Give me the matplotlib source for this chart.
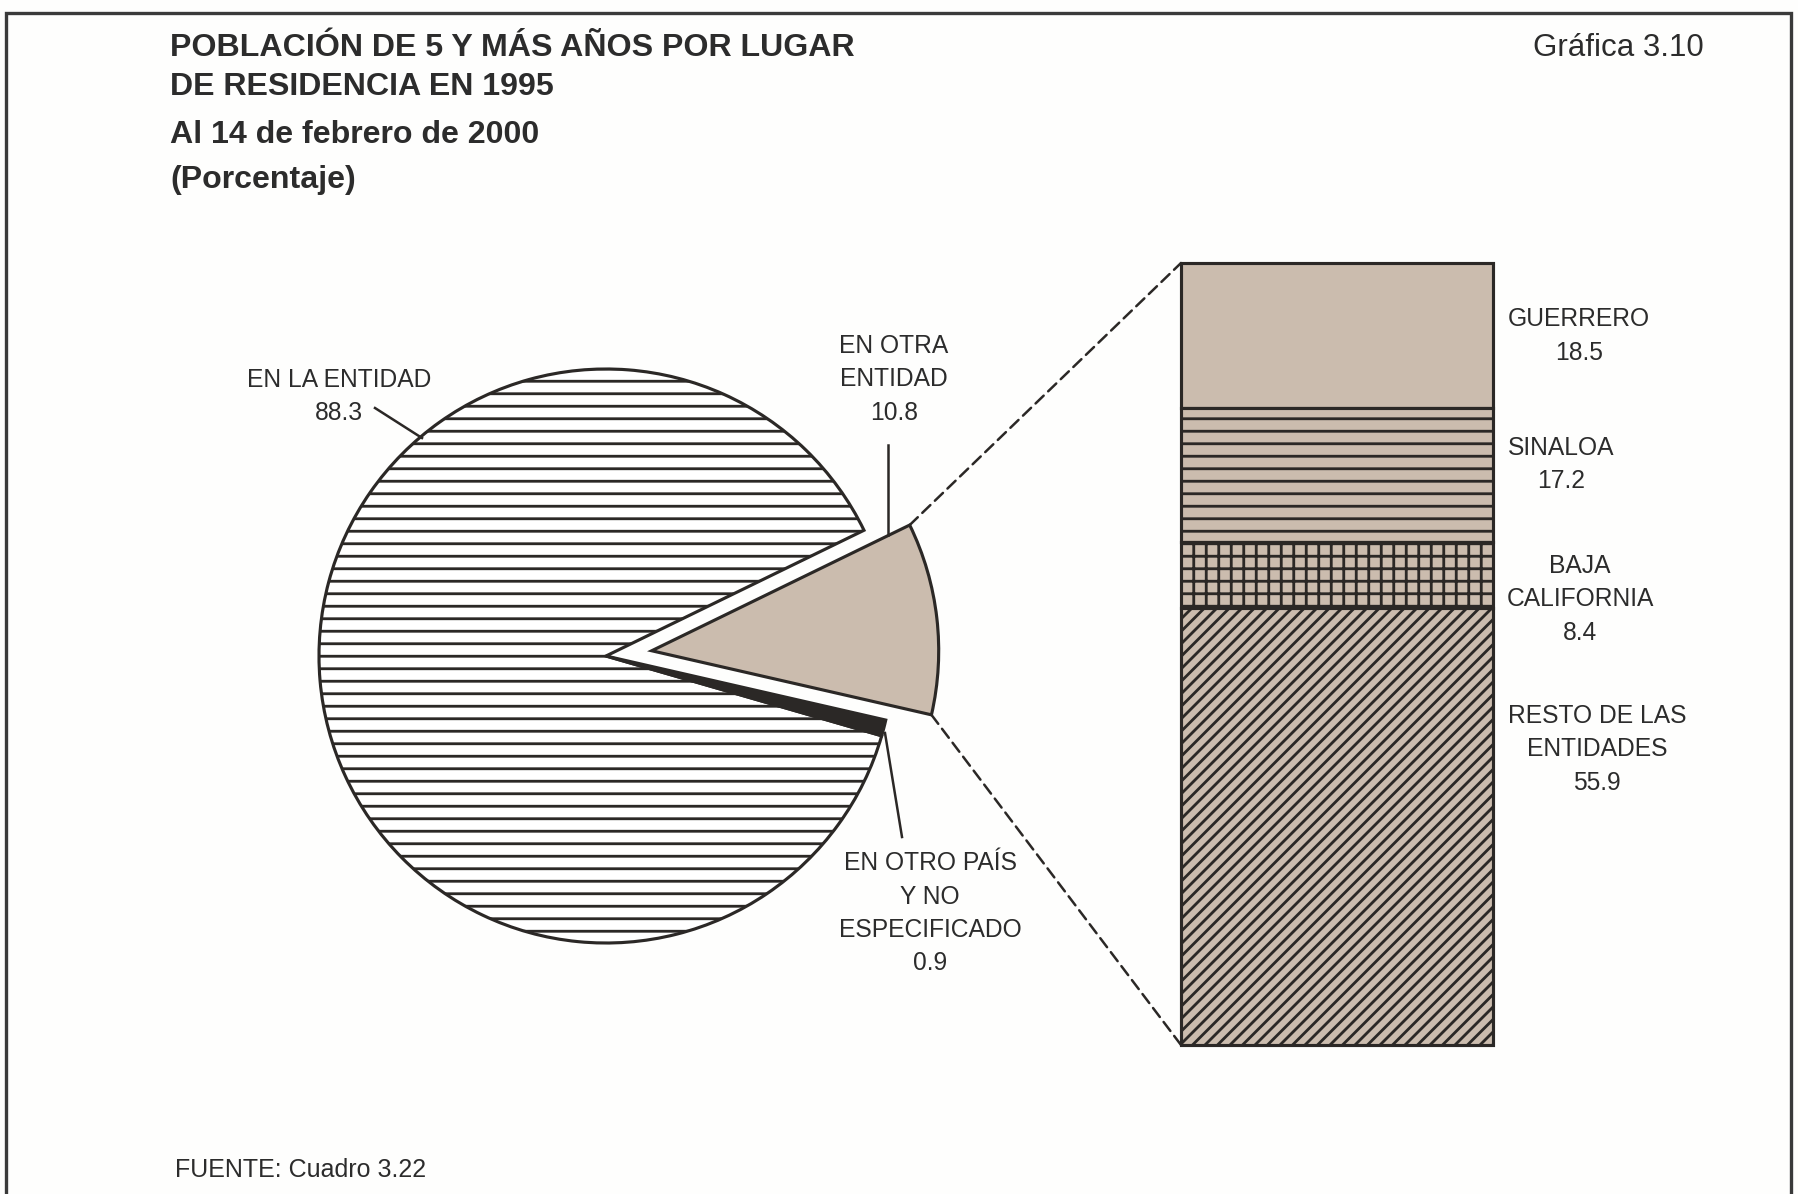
import matplotlib

matplotlib.use("Agg")
import matplotlib.pyplot as plt
import numpy as np
from matplotlib.patches import ConnectionPatch, Rectangle

# residence in 1995, population aged 5 and over (percent)
pie_labels = ["EN OTRA\nENTIDAD", "EN LA ENTIDAD", "EN OTRO PAÍS\nY NO\nESPECIFICADO"]
pie_values = [10.8, 88.3, 0.9]

# breakdown of "en otra entidad" (percent)
bar_labels = ["GUERRERO", "SINALOA", "BAJA\nCALIFORNIA", "RESTO DE LAS\nENTIDADES"]
bar_values = [18.5, 17.2, 8.4, 55.9]

title_lines = ["POBLACIÓN DE 5 Y MÁS AÑOS POR LUGAR", "DE RESIDENCIA EN 1995"]
subtitle_lines = ["Al 14 de febrero de 2000", "(Porcentaje)"]
chart_number = "Gráfica 3.10"
source_note = "FUENTE: Cuadro 3.22"

W, H = 1798, 1194
DPI = 150
TAN = "#cbbcae"
INK = "#2b2826"
TEXT = "#2c2c2c"

plt.rcParams["font.family"] = ["Liberation Sans", "DejaVu Sans"]
plt.rcParams["hatch.color"] = INK
plt.rcParams["hatch.linewidth"] = 1.35

fig = plt.figure(figsize=(W / DPI, H / DPI), dpi=DPI, facecolor="#fefefd")


def px(x, y):
    # reference pixel (y down) -> figure fraction
    return x / W, 1 - y / H


def stacked_text(x, y_first, lines, pitch=33.5, size=11.8):
    for i, line in enumerate(lines):
        fx, fy = px(x, y_first + i * pitch)
        fig.text(fx, fy, line, ha="center", va="center", size=size, color=TEXT)


# pie, drawn in pixel units (y up)
ax = fig.add_axes([0, 0, 1, 1])
wedges, _ = ax.pie(
    pie_values,
    explode=[46, 0, 0],
    startangle=-12.9,
    counterclock=True,
    center=(606, H - 656),
    radius=287,
    colors=[TAN, "white", INK],
    hatch=["", "--", ""],
    wedgeprops=dict(edgecolor=INK, linewidth=1.5),
    frame=True,
)
ax.set_xlim(0, W)
ax.set_ylim(0, H)
ax.axis("off")

# stacked bar for the exploded slice
bar_left, bar_top, bar_right, bar_bottom = 1181, 263, 1493, 1045
bax = fig.add_axes([
    bar_left / W,
    1 - bar_bottom / H,
    (bar_right - bar_left) / W,
    (bar_bottom - bar_top) / H,
])
bax.set_xlim(0, 1)
bax.set_ylim(100, 0)
bax.axis("off")

bottoms = np.concatenate([[0], np.cumsum(bar_values)[:-1]])
bars = bax.bar(
    0.5, bar_values, width=1, bottom=bottoms,
    color=TAN, edgecolor=INK, linewidth=1.5, clip_on=False,
)
for patch, hatch in zip(bars, ["", "--", "++", "////"]):
    patch.set_hatch(hatch)

# dashed connectors from the slice to the bar
slice_ = wedges[0]
cx, cy = slice_.center
for theta, bar_y in [(slice_.theta2, 0), (slice_.theta1, 100)]:
    t = np.deg2rad(theta)
    con = ConnectionPatch(
        xyA=(cx + slice_.r * np.cos(t), cy + slice_.r * np.sin(t)),
        coordsA=ax.transData,
        xyB=(0, bar_y),
        coordsB=bax.transData,
        color=INK,
        linewidth=1.2,
        linestyle=(0, (4.5, 2.5)),
    )
    fig.add_artist(con)

# leader lines
for (x0, y0), (x1, y1) in [((375, 408), (422, 438)),
                           ((888, 445), (888, 535)),
                           ((885, 733), (902, 837))]:
    ax.plot([x0, x1], [H - y0, H - y1], color=INK, linewidth=1.2)

# pie labels
pie_label_pos = [(894, 346), (339, 380), (930, 863)]
for label, value, (x, y) in zip(pie_labels, pie_values, pie_label_pos):
    stacked_text(x, y, label.split("\n") + [f"{value:.1f}"])

# bar labels
bar_label_pos = [(1579, 319), (1561, 448), (1580, 566), (1597, 716)]
for label, value, (x, y) in zip(bar_labels, bar_values, bar_label_pos):
    stacked_text(x, y, label.split("\n") + [f"{value:.1f}"])

# titles
for line, y in zip(title_lines + subtitle_lines, [48, 87, 135, 180]):
    fx, fy = px(170, y)
    fig.text(fx, fy, line, ha="left", va="center", size=15.4,
             weight="bold", color=TEXT)

fx, fy = px(1704, 48)
fig.text(fx, fy, chart_number, ha="right", va="center", size=15, color=TEXT)

fx, fy = px(175, 1170)
fig.text(fx, fy, source_note, ha="left", va="center", size=12, color=TEXT)

# outer frame (bottom edge runs off the page)
fig.add_artist(Rectangle(
    (6 / W, -0.02), (1791 - 6) / W, 1 - 13 / H + 0.02,
    transform=fig.transFigure, fill=False, edgecolor="#3a3a3a", linewidth=1.6,
))

fig.savefig("out.png", dpi=DPI, facecolor=fig.get_facecolor())
